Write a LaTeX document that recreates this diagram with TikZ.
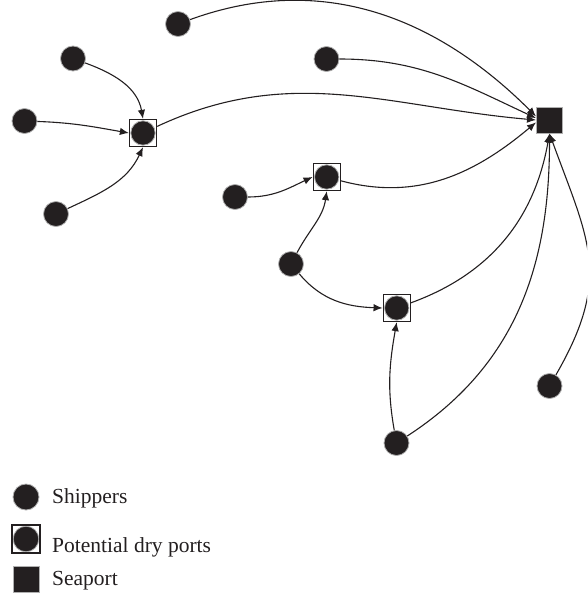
\documentclass[tikz,border=0pt]{standalone}
\usepackage{fontspec}
\setmainfont{Liberation Serif}
\usetikzlibrary{arrows.meta}
\definecolor{ink}{RGB}{35,31,32}
\definecolor{rim}{RGB}{175,175,175}
\begin{document}
\begin{tikzpicture}[x=1pt,y=1pt,
  shipper/.style={circle,fill=ink,draw=rim,line width=0.8pt,minimum size=25pt,inner sep=0pt},
  dryport/.style={rectangle,draw=ink,line width=1.3pt,fill=white,minimum size=27pt,inner sep=0pt,
    path picture={\fill[ink,draw=rim,line width=0.8pt] (path picture bounding box.center) circle (12.2pt);}},
  seaport/.style={rectangle,fill=ink,draw=rim,line width=1pt,minimum size=26pt,inner sep=0pt},
  flow/.style={draw=ink,line width=1.1pt,-{Latex[length=9pt,width=7.5pt]}},
  legend/.style={anchor=base west,font=\fontsize{21.5}{24}\selectfont,text=ink,inner sep=0pt}]
\useasboundingbox (0,0) rectangle (587,-595);
\clip (0,0) rectangle (587,-595);

% shippers
\node[shipper] (S1) at (178,-24) {};
\node[shipper] (S2) at (326.5,-59) {};
\node[shipper] (S3) at (73,-58.5) {};
\node[shipper] (S4) at (24.5,-121) {};
\node[shipper] (S5) at (56,-214) {};
\node[shipper] (S6) at (235,-197) {};
\node[shipper] (S7) at (291,-264) {};
\node[shipper] (S8) at (549.5,-386) {};
\node[shipper] (S9) at (396.5,-443) {};

% dry ports
\node[dryport] (D1) at (143,-133) {};
\node[dryport] (D2) at (326.7,-177) {};
\node[dryport] (D3) at (396.7,-308) {};

% seaport
\node[seaport] (SP) at (549.5,-120) {};

% flows to seaport
\draw[flow] (S1) to[out=20,in=135] (SP.165);
\draw[flow] (S2) to[out=0,in=155] (SP.172);
\draw[flow] (D1) to[out=25,in=175] (SP.west);
\draw[flow] (D2) to[out=-15,in=220] (SP.190);
\draw[flow] (D3) to[out=20,in=260] (SP.south);
\draw[flow] (S9) to[out=33,in=270] (SP.south);
\draw[flow] (S8) to[out=60,in=290,looseness=1.2] (SP.south);

% flows to dry ports
\draw[flow] (S3) to[out=-20,in=100] (D1.north);
\draw[flow] (S4) to[out=-2,in=170] (D1.west);
\draw[flow] (S5) to[out=25,in=245] (D1.south);
\draw[flow] (S6) to[out=0,in=205] (D2.west);
\draw[flow] (S7) to[out=62,in=262] (D2.south);
\draw[flow] (S7) to[out=-50,in=178] (D3.west);
\draw[flow] (S9) to[out=100,in=260] (D3.south);

% legend
\node[shipper,minimum size=26pt] (LS) at (26,-497) {};
\node[dryport,minimum size=28pt,path picture={\fill[ink,draw=rim,line width=0.8pt] (path picture bounding box.center) circle (12.8pt);}] (LD) at (26,-539) {};
\node[seaport] (LP) at (26,-579) {};
\node[legend] (TS) at (52,-503) {Shippers};
\node[legend] (TD) at (52,-552) {Potential dry ports};
\node[legend] (TP) at (52,-585) {Seaport};
\end{tikzpicture}
\end{document}
